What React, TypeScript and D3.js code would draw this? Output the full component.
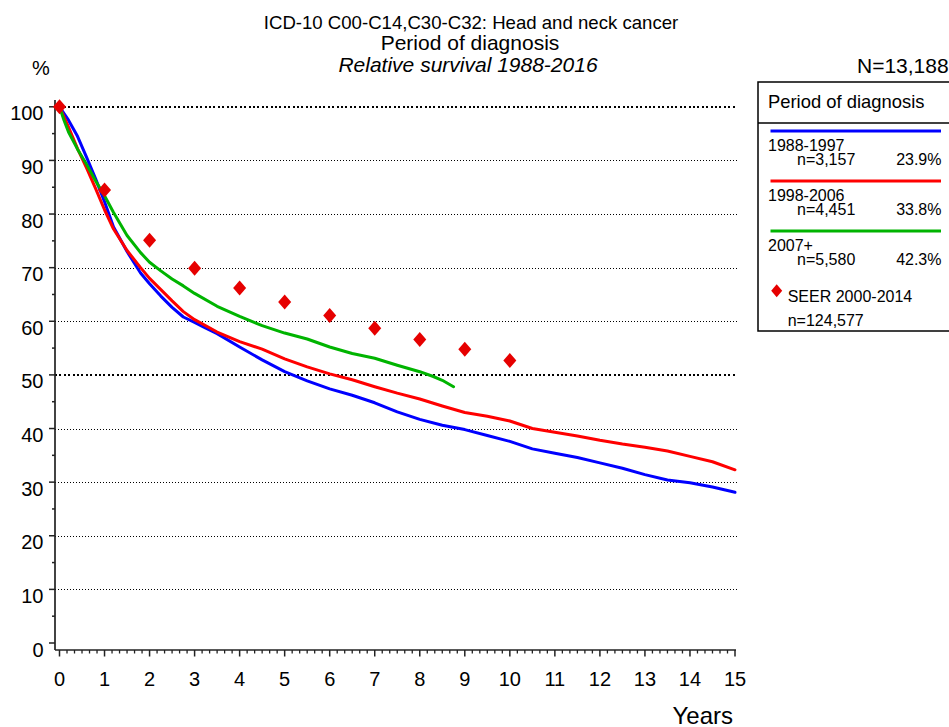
import React from "react";
import * as d3 from "d3";

const W = 949;
const H = 727;

const titleLines = ["ICD-10 C00-C14,C30-C32: Head and neck cancer", "Period of diagnosis", "Relative survival 1988-2016"];
const xTicks = d3.range(0, 16);
const yTicks = d3.range(0, 101, 10);

const blueT = [0, 0.2, 0.4, 0.6, 0.8, 1.0, 1.2, 1.5, 1.8, 2.0, 2.25, 2.5, 2.75, 3.0, 3.25, 3.5, 4.0, 4.5, 5.0, 5.5, 6.0, 6.5, 7.0, 7.5, 8.0, 8.5, 9.0, 9.5, 10.0, 10.5, 11.0, 11.5, 12.0, 12.5, 13.0, 13.5, 14.0, 14.5, 15.0];
const blueV = [100, 97.5, 94.5, 90.6, 86.6, 82.3, 77.6, 73.0, 69.0, 67.0, 64.7, 62.6, 60.8, 59.8, 58.7, 57.7, 55.2, 52.8, 50.6, 48.9, 47.4, 46.2, 44.8, 43.1, 41.7, 40.6, 39.8, 38.7, 37.6, 36.2, 35.4, 34.6, 33.6, 32.6, 31.4, 30.4, 29.9, 29.1, 28.1];

const redT = [0, 0.2, 0.4, 0.6, 0.8, 1.0, 1.2, 1.5, 1.8, 2.0, 2.25, 2.5, 2.75, 3.0, 3.5, 4.0, 4.5, 5.0, 5.5, 6.0, 6.5, 7.0, 7.5, 8.0, 8.5, 9.0, 9.5, 10.0, 10.5, 11.0, 11.5, 12.0, 12.5, 13.0, 13.5, 14.0, 14.5, 15.0];
const redV = [100, 96.2, 92.2, 88.6, 84.8, 80.8, 77.2, 73.2, 70.0, 68.0, 65.9, 63.8, 61.8, 60.3, 58.0, 56.2, 54.8, 53.0, 51.5, 50.2, 49.1, 47.8, 46.6, 45.5, 44.2, 43.0, 42.3, 41.4, 40.0, 39.3, 38.6, 37.8, 37.1, 36.5, 35.8, 34.8, 33.8, 32.3];

const greenT = [0, 0.1, 0.2, 0.4, 0.6, 0.8, 1.0, 1.2, 1.5, 1.8, 2.0, 2.25, 2.5, 2.75, 3.0, 3.5, 4.0, 4.5, 5.0, 5.5, 6.0, 6.5, 7.0, 7.5, 8.0, 8.3, 8.5, 8.75];
const greenV = [100, 97.5, 95.3, 92.1, 89.3, 86.2, 83.4, 80.3, 76.0, 72.8, 71.0, 69.4, 67.9, 66.6, 65.2, 62.8, 60.9, 59.2, 57.8, 56.7, 55.2, 54.0, 53.1, 51.8, 50.6, 49.7, 49.0, 47.8];

const seerT = [0, 1, 2, 3, 4, 5, 6, 7, 8, 9, 10];
const seerV = [100, 84.5, 75.1, 69.9, 66.2, 63.6, 61.1, 58.7, 56.6, 54.8, 52.7];

const legendPeriods = ["1988-1997", "1998-2006", "2007+"];
const legendN = ["n=3,157", "n=4,451", "n=5,580"];
const legendPct = ["23.9%", "33.8%", "42.3%"];
const colors = ["#0000ff", "#ff0000", "#00b400"];

const FONT = "'Liberation Sans', Arial, Helvetica, sans-serif";

export default function App() {
  const x = d3.scaleLinear().domain([0, 15]).range([59.5, 735]);
  const y = d3.scaleLinear().domain([0, 100]).range([643, 106.8]);
  const line = d3
    .line<[number, number]>()
    .x((d) => x(d[0]))
    .y((d) => y(d[1]));

  const series = [
    d3.zip(blueT, blueV) as [number, number][],
    d3.zip(redT, redV) as [number, number][],
    d3.zip(greenT, greenV) as [number, number][],
  ];

  const axisY = 650;
  const axisX = 55;
  const minorX = d3.range(0, 15 * 6 + 1).map((i) => i / 6).filter((v) => Math.abs(v - Math.round(v)) > 1e-6);
  const minorY = d3.range(5, 100, 10);
  const snap = (v: number) => Math.round(v) + 0.5;

  const diamond = (cx: number, cy: number, hw: number, hh: number) =>
    `M${cx},${cy - hh}L${cx + hw},${cy}L${cx},${cy + hh}L${cx - hw},${cy}Z`;

  return (
    <svg
      width={W}
      height={H}
      style={{ position: "absolute", left: 0, top: 0, display: "block", background: "#fff" }}
      fontFamily={FONT}
    >
      <rect x={0} y={0} width={W} height={H} fill="#fff" />
      {/* titles */}
      <text x={471} y={29} fontSize={18.6} textAnchor="middle" fill="#000">{titleLines[0]}</text>
      <text x={470} y={49.5} fontSize={21} textAnchor="middle" fill="#000">{titleLines[1]}</text>
      <text x={468} y={72} fontSize={21} textAnchor="middle" fontStyle="italic" fill="#000">{titleLines[2]}</text>
      <text x={32} y={75} fontSize={20} fill="#000">%</text>
      <text x={857} y={72.5} fontSize={21} fill="#000">N=13,188</text>

      {/* gridlines */}
      {yTicks.filter((v) => v > 0).map((v) => {
        const bold = v === 100 || v === 50;
        const yy = bold ? Math.round(y(v)) : snap(y(v));
        return (
          <line
            key={"g" + v}
            x1={axisX}
            x2={737}
            y1={yy}
            y2={yy}
            stroke="#000"
            strokeWidth={bold ? 2 : 1}
            strokeDasharray={bold ? "2,2.4" : "1,2"}
            shapeRendering="crispEdges"
          />
        );
      })}

      {/* y axis */}
      <line x1={axisX} x2={axisX} y1={100} y2={axisY} stroke="#222" strokeWidth={1.7} />
      {yTicks.map((v) => (
        <g key={"yt" + v}>
          <line x1={axisX - 6} x2={axisX} y1={y(v)} y2={y(v)} stroke="#222" strokeWidth={1.5} />
          <text x={43.5} y={y(v) + 13.5} fontSize={20} textAnchor="end" fill="#000">{v}</text>
        </g>
      ))}
      {minorY.map((v) => (
        <line key={"ym" + v} x1={axisX - 3} x2={axisX} y1={y(v)} y2={y(v)} stroke="#222" strokeWidth={1.5} />
      ))}

      {/* x axis */}
      <line x1={axisX} x2={736} y1={axisY} y2={axisY} stroke="#222" strokeWidth={1.7} />
      {xTicks.map((t) => (
        <g key={"xt" + t}>
          <line x1={x(t)} x2={x(t)} y1={axisY} y2={axisY + 6.5} stroke="#222" strokeWidth={1.5} />
          <text x={x(t)} y={686} fontSize={20} textAnchor="middle" fill="#000">{t}</text>
        </g>
      ))}
      {minorX.map((t, i) => (
        <line key={"xm" + i} x1={x(t)} x2={x(t)} y1={axisY} y2={axisY + 3.5} stroke="#222" strokeWidth={1.3} />
      ))}
      <text x={733} y={724} fontSize={24} textAnchor="end" fill="#000">Years</text>

      {/* curves */}
      {series.map((s, i) => (
        <path key={"s" + i} d={line(s) || ""} fill="none" stroke={colors[i]} strokeWidth={3} strokeLinejoin="round" strokeLinecap="round" />
      ))}

      {/* SEER diamonds */}
      {seerT.map((t, i) => (
        <path key={"d" + i} d={diamond(x(t), y(seerV[i]), 6.5, 7.5)} fill="#e60000" />
      ))}

      {/* legend */}
      <rect x={758} y={82} width={220} height={249} fill="#fff" stroke="#000" strokeWidth={1.5} />
      <line x1={758} x2={949} y1={123} y2={123} stroke="#000" strokeWidth={1.5} />
      <text x={768} y={108} fontSize={18.4} fill="#000">Period of diagnosis</text>
      {legendPeriods.map((p, i) => {
        const ly = 131 + i * 50;
        return (
          <g key={"l" + i}>
            <line x1={770.5} x2={941} y1={ly} y2={ly} stroke={colors[i]} strokeWidth={3} />
            <text x={768} y={ly + 20} fontSize={16} fill="#000">{p}</text>
            <text x={797} y={ly + 34} fontSize={16} fill="#000">{legendN[i]}</text>
            <text x={941.5} y={ly + 34} fontSize={16} textAnchor="end" fill="#000">{legendPct[i]}</text>
          </g>
        );
      })}
      <path d={diamond(776.7, 290.7, 5.5, 6.5)} fill="#e60000" />
      <text x={787.7} y={302} fontSize={16} fill="#000">SEER 2000-2014</text>
      <text x={787.7} y={326} fontSize={16} fill="#000">n=124,577</text>
    </svg>
  );
}
